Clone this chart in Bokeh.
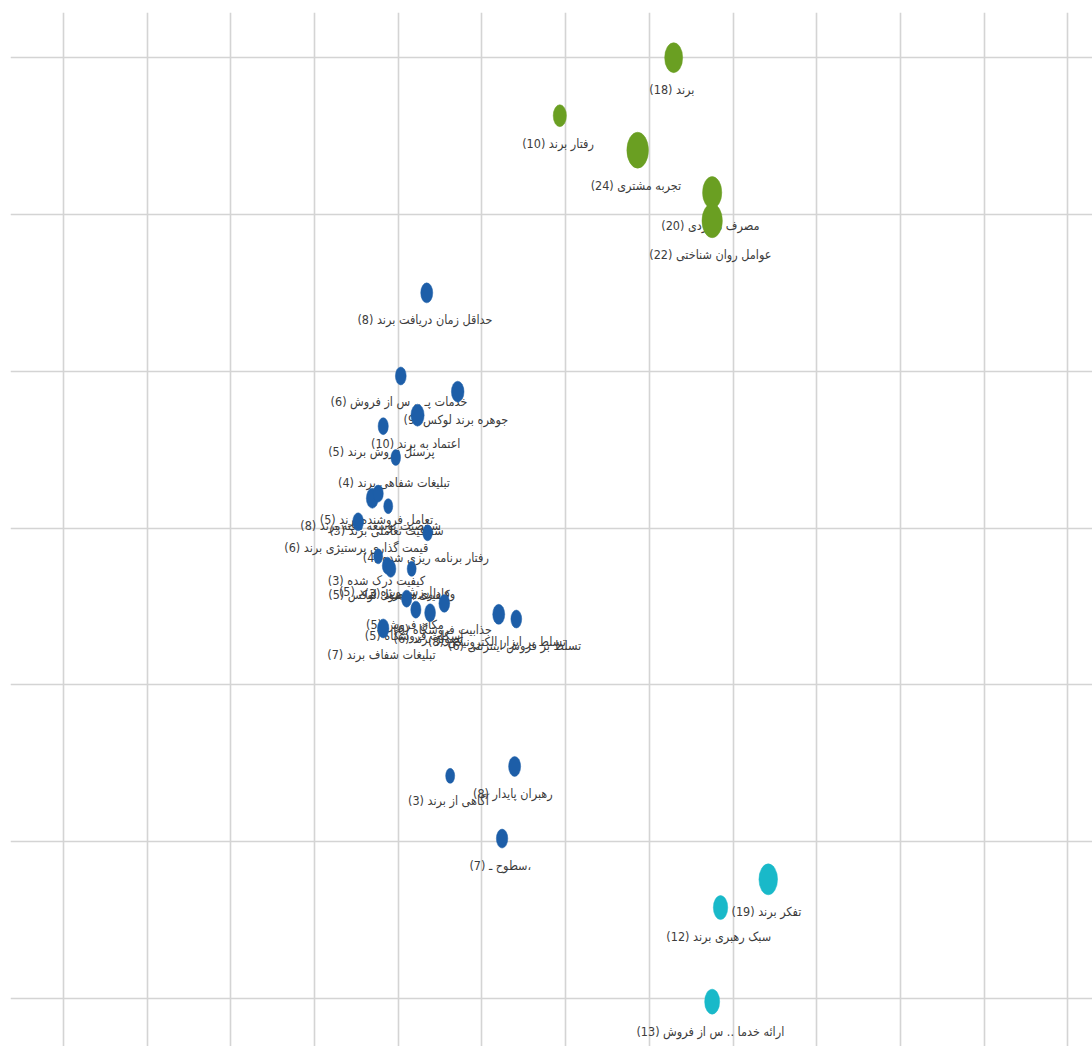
from bokeh.plotting import figure
from bokeh.models import ColumnDataSource, FixedTicker, Range1d
from bokeh.core.properties import value
from bokeh.embed import file_html
from bokeh.resources import INLINE

# ---- data (map coordinates, occurrence weights, cluster) ----
terms = [
    "برند", "رفتار برند", "تجربه مشتری", "مصرف مـوردی", "عوامل روان شناختی",
    "حداقل زمان دریافت برند", "خدمات پـ .. س از فروش", "جوهره برند لوکس",
    "اعتماد به برند", "پرسنل فروش برند", "تبلیغات شفاهی برند",
    "شخصیت توسعه یافته برند", "تعامل فروشنده برند", "شفافیت تعاملی برند",
    "قیمت گذاری پرستیژی برند", "رفتار برنامه ریزی شده", "کیفیت درک شده",
    "ارزش ویژه برند", "کیفیت محصول لوکس", "وفاداری به برند", "مکان فروش",
    "اسکلت فروشگاه", "تصویر برند", "جذابیت فروشگاه", "تسلط بر ابزار الکترونیکی",
    "تسلط بر فروش اینترنتی", "تبلیغات شفاف برند", "آگاهی از برند",
    "رهبران پایدار", "سطوح ـ،", "تفکر برند", "سبک رهبری برند",
    "ارائه خدما .. س از فروش",
]
weights = [18, 10, 24, 20, 22,
           8, 6, 9, 10, 5, 4,
           8, 5, 3, 6, 4, 3, 5, 5, 3, 5, 5, 6, 6, 8, 6, 7,
           3, 8, 7, 19, 12, 13]
xs = [7.29, 5.93, 6.86, 7.75, 7.75,
      4.34, 4.03, 4.71, 4.23, 3.82, 3.97,
      3.69, 3.76, 3.88, 3.52, 4.35, 3.76, 3.87, 3.91, 4.16, 4.10,
      4.21, 4.38, 4.55, 5.20, 5.41, 3.82,
      4.62, 5.39, 5.24, 8.42, 7.85, 7.75]
ys = [6.00, 5.63, 5.41, 5.14, 4.96,
      4.50, 3.97, 3.87, 3.72, 3.65, 3.45,
      3.19, 3.22, 3.14, 3.04, 2.97, 2.82, 2.76, 2.74, 2.74, 2.55,
      2.48, 2.46, 2.52, 2.45, 2.42, 2.36,
      1.42, 1.48, 1.02, 0.76, 0.58, -0.02]
clusters = [1] * 5 + [2] * 25 + [3] * 3

x_ticks = list(range(0, 13))
y_ticks = list(range(0, 7))

# ---- styling derived from the data ----
palette = {1: "#6a9f22", 2: "#1d5ea8", 3: "#19b9c9"}
heights = [12 + 1.0 * w for w in weights]
widths = [0.6 * h for h in heights]
labels = [f"({w})  {t}" for t, w in zip(terms, weights)]
offsets = [h / 2 + 17 for h in heights]

src = ColumnDataSource(dict(
    x=xs, y=ys, w=widths, h=heights, label=labels, off=offsets,
    color=[palette[c] for c in clusters],
))

p = figure(width=1092, height=1046, output_backend="svg", toolbar_location=None,
           x_range=Range1d(-0.633, 12.294), y_range=Range1d(-0.306, 6.288),
           min_border_left=10, min_border_top=12, min_border_right=0, min_border_bottom=0,
           x_axis_location=None, y_axis_location=None)
p.outline_line_color = None
p.background_fill_color = "white"
p.xgrid.ticker = FixedTicker(ticks=x_ticks)
p.ygrid.ticker = FixedTicker(ticks=y_ticks)
for g in (p.xgrid, p.ygrid):
    g.grid_line_color = "#d4d4d4"
    g.grid_line_width = 1.6

p.text(x="x", y="y", text="label", source=src, y_offset="off",
       text_align="center", text_baseline="middle",
       text_font=value("DejaVu Sans Condensed"), text_font_size="12.5px",
       text_color="#3c3c3c")

p.ellipse(x="x", y="y", width="w", height="h", source=src,
          width_units="screen", height_units="screen",
          fill_color="color", line_color="color", line_width=0.5)

open("out.html", "w").write(file_html(p, INLINE))
